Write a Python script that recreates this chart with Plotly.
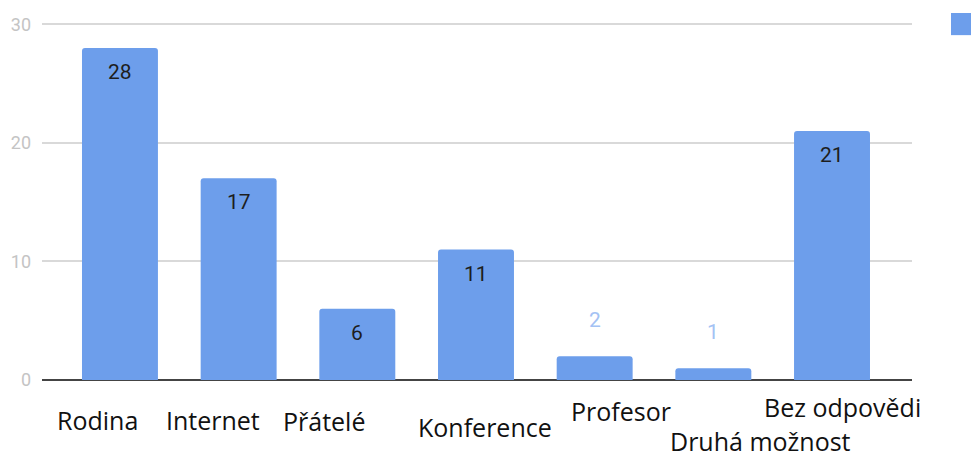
import plotly.graph_objects as go

categories = ["Rodina", "Internet", "Přátelé", "Konference", "Profesor", "Druhá možnost", "Bez odpovědi"]
values = [28, 17, 6, 11, 2, 1, 21]
y_ticks = [0, 10, 20, 30]

# label placement (pixel offsets), layout only
label_dx = [-22, -26, -33, 9, 26, 47, 10]
label_dy = [-40, -40, -41, -47, -31, -61, -27]

BAR = "#6d9eeb"

fig = go.Figure()
fig.add_trace(go.Bar(
    x=categories, y=values, marker=dict(color=BAR, cornerradius=3, line=dict(width=0)),
    showlegend=False, hoverinfo="skip",
))

annotations = []
for i, (c, v) in enumerate(zip(categories, values)):
    inside = v >= 5
    annotations.append(dict(
        x=c, y=v, xref="x", yref="y", text=str(v), showarrow=False,
        yshift=-24 if inside else 36, yanchor="middle",
        font=dict(family="Roboto", size=21, color="#1e1e1e" if inside else "#a4c2f4"),
    ))
    annotations.append(dict(
        x=c, y=0, xref="x", yref="y", text=c, showarrow=False,
        xshift=label_dx[i], yshift=label_dy[i], yanchor="middle",
        font=dict(family="Open Sans", size=25, color="#111111"),
    ))

fig.update_layout(
    width=971, height=459,
    margin=dict(l=42, r=59, t=23, b=79),
    paper_bgcolor="white", plot_bgcolor="white",
    bargap=0.36,
    annotations=annotations,
    xaxis=dict(range=[-0.657, 6.674], showticklabels=False, showgrid=False, zeroline=False,
               showline=False, fixedrange=True),
    yaxis=dict(range=[0, 30.1], tickvals=y_ticks, showgrid=True, gridcolor="#d9d9d9", gridwidth=1.5,
               zeroline=True, zerolinecolor="#444444", zerolinewidth=2,
               tickfont=dict(family="Roboto", size=18, color="#c4c4c4"),
               ticklabelstandoff=10, showline=False, fixedrange=True),
    shapes=[dict(type="rect", xref="paper", yref="paper", x0=1.0448, x1=1.08, y0=0.966, y1=1.028,
                 fillcolor=BAR, line=dict(width=0))],
)

fig.write_html("out.html", config={"displayModeBar": False},
               post_script="document.body.style.margin='0px';")
